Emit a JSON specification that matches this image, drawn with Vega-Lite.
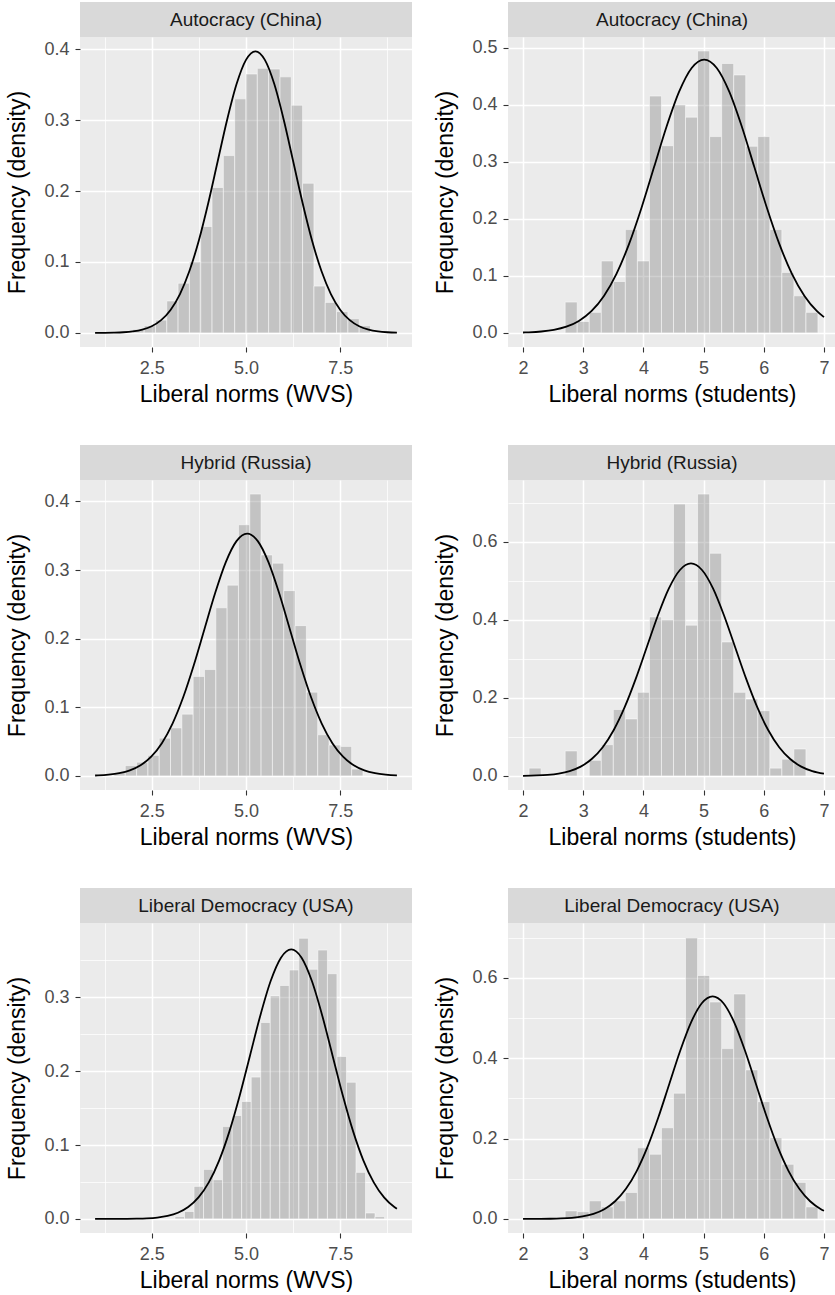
{
  "$schema": "https://vega.github.io/schema/vega-lite/v6.json",
  "background": "white",
  "padding": {"left": 6, "top": 2, "right": 0, "bottom": 0},
  "spacing": 39,
  "config": {
    "font": "Liberation Sans",
    "view": {"fill": "#EBEBEB", "stroke": null},
    "axis": {
      "domain": false,
      "gridColor": "white",
      "tickColor": "#333333",
      "tickSize": 5,
      "tickWidth": 1.1,
      "labelColor": "#4D4D4D",
      "labelFontSize": 18,
      "labelFont": "Liberation Sans",
      "titleFont": "Liberation Sans",
      "titleFontSize": 23,
      "titleFontWeight": "normal",
      "titleColor": "black",
      "labelOverlap": false,
      "labelFlush": false
    },
    "axisX": {"labelPadding": 7, "titlePadding": 6},
    "axisY": {"labelPadding": 6, "titlePadding": 14}
  },
  "datasets": {
    "b1": [
      {"lo": 2.0, "hi": 2.3, "density": 0.005},
      {"lo": 2.3, "hi": 2.6, "density": 0.01},
      {"lo": 2.6, "hi": 2.9, "density": 0.018},
      {"lo": 2.9, "hi": 3.2, "density": 0.045},
      {"lo": 3.2, "hi": 3.5, "density": 0.07},
      {"lo": 3.5, "hi": 3.8, "density": 0.10},
      {"lo": 3.8, "hi": 4.1, "density": 0.15},
      {"lo": 4.1, "hi": 4.4, "density": 0.205},
      {"lo": 4.4, "hi": 4.7, "density": 0.25},
      {"lo": 4.7, "hi": 5.0, "density": 0.33},
      {"lo": 5.0, "hi": 5.3, "density": 0.365},
      {"lo": 5.3, "hi": 5.6, "density": 0.373},
      {"lo": 5.6, "hi": 5.9, "density": 0.372},
      {"lo": 5.9, "hi": 6.2, "density": 0.361},
      {"lo": 6.2, "hi": 6.5, "density": 0.321},
      {"lo": 6.5, "hi": 6.8, "density": 0.211},
      {"lo": 6.8, "hi": 7.1, "density": 0.066},
      {"lo": 7.1, "hi": 7.4, "density": 0.043},
      {"lo": 7.4, "hi": 7.7, "density": 0.03},
      {"lo": 7.7, "hi": 8.0, "density": 0.02},
      {"lo": 8.0, "hi": 8.3, "density": 0.01}
    ],
    "c1": [
      {"score": 1.0, "density": 0.00005},
      {"score": 1.25, "density": 0.00014},
      {"score": 1.5, "density": 0.00038},
      {"score": 1.75, "density": 0.00092},
      {"score": 2.0, "density": 0.00213},
      {"score": 2.25, "density": 0.00461},
      {"score": 2.5, "density": 0.0094},
      {"score": 2.75, "density": 0.01799},
      {"score": 3.0, "density": 0.03238},
      {"score": 3.25, "density": 0.0548},
      {"score": 3.5, "density": 0.08717},
      {"score": 3.75, "density": 0.1303},
      {"score": 4.0, "density": 0.1832},
      {"score": 4.25, "density": 0.242},
      {"score": 4.5, "density": 0.3005},
      {"score": 4.75, "density": 0.3508},
      {"score": 5.0, "density": 0.3849},
      {"score": 5.25, "density": 0.397},
      {"score": 5.5, "density": 0.3849},
      {"score": 5.75, "density": 0.3508},
      {"score": 6.0, "density": 0.3005},
      {"score": 6.25, "density": 0.242},
      {"score": 6.5, "density": 0.1832},
      {"score": 6.75, "density": 0.1303},
      {"score": 7.0, "density": 0.08717},
      {"score": 7.25, "density": 0.0548},
      {"score": 7.5, "density": 0.03238},
      {"score": 7.75, "density": 0.01799},
      {"score": 8.0, "density": 0.0094},
      {"score": 8.25, "density": 0.00461},
      {"score": 8.5, "density": 0.00213},
      {"score": 8.75, "density": 0.00092},
      {"score": 9.0, "density": 0.00038}
    ],
    "b2": [
      {"lo": 2.7, "hi": 2.9, "density": 0.054},
      {"lo": 2.9, "hi": 3.1, "density": 0.02},
      {"lo": 3.1, "hi": 3.3, "density": 0.036},
      {"lo": 3.3, "hi": 3.5, "density": 0.126},
      {"lo": 3.5, "hi": 3.7, "density": 0.09},
      {"lo": 3.7, "hi": 3.9, "density": 0.181},
      {"lo": 3.9, "hi": 4.1, "density": 0.126},
      {"lo": 4.1, "hi": 4.3, "density": 0.415},
      {"lo": 4.3, "hi": 4.5, "density": 0.328},
      {"lo": 4.5, "hi": 4.7, "density": 0.40},
      {"lo": 4.7, "hi": 4.9, "density": 0.378},
      {"lo": 4.9, "hi": 5.1, "density": 0.494},
      {"lo": 5.1, "hi": 5.3, "density": 0.344},
      {"lo": 5.3, "hi": 5.5, "density": 0.472},
      {"lo": 5.5, "hi": 5.7, "density": 0.452},
      {"lo": 5.7, "hi": 5.9, "density": 0.327},
      {"lo": 5.9, "hi": 6.1, "density": 0.344},
      {"lo": 6.1, "hi": 6.3, "density": 0.181},
      {"lo": 6.3, "hi": 6.5, "density": 0.106},
      {"lo": 6.5, "hi": 6.7, "density": 0.065},
      {"lo": 6.7, "hi": 6.9, "density": 0.036}
    ],
    "c2": [
      {"score": 2.0, "density": 0.0007},
      {"score": 2.0945, "density": 0.00105},
      {"score": 2.30275, "density": 0.00244},
      {"score": 2.511, "density": 0.00532},
      {"score": 2.71925, "density": 0.01092},
      {"score": 2.9275, "density": 0.02105},
      {"score": 3.13575, "density": 0.03811},
      {"score": 3.344, "density": 0.06483},
      {"score": 3.55225, "density": 0.10359},
      {"score": 3.7605, "density": 0.15551},
      {"score": 3.96875, "density": 0.2193},
      {"score": 4.177, "density": 0.29053},
      {"score": 4.38525, "density": 0.36157},
      {"score": 4.5935, "density": 0.42272},
      {"score": 4.80175, "density": 0.46426},
      {"score": 5.01, "density": 0.479},
      {"score": 5.21825, "density": 0.46426},
      {"score": 5.4265, "density": 0.42272},
      {"score": 5.63475, "density": 0.36157},
      {"score": 5.843, "density": 0.29053},
      {"score": 6.05125, "density": 0.2193},
      {"score": 6.2595, "density": 0.15551},
      {"score": 6.46775, "density": 0.10359},
      {"score": 6.676, "density": 0.06483},
      {"score": 6.88425, "density": 0.03811},
      {"score": 7.0, "density": 0.0276}
    ],
    "b3": [
      {"lo": 1.5, "hi": 1.8, "density": 0.005},
      {"lo": 1.8, "hi": 2.1, "density": 0.015},
      {"lo": 2.1, "hi": 2.4, "density": 0.02},
      {"lo": 2.4, "hi": 2.7, "density": 0.03},
      {"lo": 2.7, "hi": 3.0, "density": 0.055},
      {"lo": 3.0, "hi": 3.3, "density": 0.07},
      {"lo": 3.3, "hi": 3.6, "density": 0.09},
      {"lo": 3.6, "hi": 3.9, "density": 0.145},
      {"lo": 3.9, "hi": 4.2, "density": 0.155},
      {"lo": 4.2, "hi": 4.5, "density": 0.245},
      {"lo": 4.5, "hi": 4.8, "density": 0.278},
      {"lo": 4.8, "hi": 5.1, "density": 0.366},
      {"lo": 5.1, "hi": 5.4, "density": 0.4107},
      {"lo": 5.4, "hi": 5.7, "density": 0.322},
      {"lo": 5.7, "hi": 6.0, "density": 0.31},
      {"lo": 6.0, "hi": 6.3, "density": 0.27},
      {"lo": 6.3, "hi": 6.6, "density": 0.219},
      {"lo": 6.6, "hi": 6.9, "density": 0.122},
      {"lo": 6.9, "hi": 7.2, "density": 0.06},
      {"lo": 7.2, "hi": 7.5, "density": 0.045},
      {"lo": 7.5, "hi": 7.8, "density": 0.043},
      {"lo": 7.8, "hi": 8.1, "density": 0.01}
    ],
    "c3": [
      {"score": 1.0, "density": 0.00061},
      {"score": 1.075, "density": 0.00077},
      {"score": 1.3575, "density": 0.0018},
      {"score": 1.64, "density": 0.00392},
      {"score": 1.9225, "density": 0.00805},
      {"score": 2.205, "density": 0.01551},
      {"score": 2.4875, "density": 0.02808},
      {"score": 2.77, "density": 0.04777},
      {"score": 3.0525, "density": 0.07634},
      {"score": 3.335, "density": 0.1146},
      {"score": 3.6175, "density": 0.16162},
      {"score": 3.9, "density": 0.21411},
      {"score": 4.1825, "density": 0.26646},
      {"score": 4.465, "density": 0.31152},
      {"score": 4.7475, "density": 0.34214},
      {"score": 5.03, "density": 0.353},
      {"score": 5.3125, "density": 0.34214},
      {"score": 5.595, "density": 0.31152},
      {"score": 5.8775, "density": 0.26646},
      {"score": 6.16, "density": 0.21411},
      {"score": 6.4425, "density": 0.16162},
      {"score": 6.725, "density": 0.1146},
      {"score": 7.0075, "density": 0.07634},
      {"score": 7.29, "density": 0.04777},
      {"score": 7.5725, "density": 0.02808},
      {"score": 7.855, "density": 0.01551},
      {"score": 8.1375, "density": 0.00805},
      {"score": 8.42, "density": 0.00392},
      {"score": 8.7025, "density": 0.0018},
      {"score": 8.985, "density": 0.00077},
      {"score": 9.0, "density": 0.00074}
    ],
    "b4": [
      {"lo": 2.1, "hi": 2.3, "density": 0.02},
      {"lo": 2.7, "hi": 2.9, "density": 0.064},
      {"lo": 3.1, "hi": 3.3, "density": 0.04},
      {"lo": 3.3, "hi": 3.5, "density": 0.08},
      {"lo": 3.5, "hi": 3.7, "density": 0.17},
      {"lo": 3.7, "hi": 3.9, "density": 0.146},
      {"lo": 3.9, "hi": 4.1, "density": 0.214},
      {"lo": 4.1, "hi": 4.3, "density": 0.407},
      {"lo": 4.3, "hi": 4.5, "density": 0.40},
      {"lo": 4.5, "hi": 4.7, "density": 0.696},
      {"lo": 4.7, "hi": 4.9, "density": 0.386},
      {"lo": 4.9, "hi": 5.1, "density": 0.7215},
      {"lo": 5.1, "hi": 5.3, "density": 0.57},
      {"lo": 5.3, "hi": 5.5, "density": 0.343},
      {"lo": 5.5, "hi": 5.7, "density": 0.214},
      {"lo": 5.7, "hi": 5.9, "density": 0.197},
      {"lo": 5.9, "hi": 6.1, "density": 0.167},
      {"lo": 6.1, "hi": 6.3, "density": 0.02},
      {"lo": 6.3, "hi": 6.5, "density": 0.043},
      {"lo": 6.5, "hi": 6.7, "density": 0.069}
    ],
    "c4": [
      {"score": 2.0, "density": 0.00039},
      {"score": 2.2245, "density": 0.00119},
      {"score": 2.40775, "density": 0.00277},
      {"score": 2.591, "density": 0.00604},
      {"score": 2.77425, "density": 0.0124},
      {"score": 2.9575, "density": 0.0239},
      {"score": 3.14075, "density": 0.04328},
      {"score": 3.324, "density": 0.07362},
      {"score": 3.50725, "density": 0.11765},
      {"score": 3.6905, "density": 0.17661},
      {"score": 3.87375, "density": 0.24906},
      {"score": 4.057, "density": 0.32995},
      {"score": 4.24025, "density": 0.41063},
      {"score": 4.4235, "density": 0.48008},
      {"score": 4.60675, "density": 0.52726},
      {"score": 4.79, "density": 0.544},
      {"score": 4.97325, "density": 0.52726},
      {"score": 5.1565, "density": 0.48008},
      {"score": 5.33975, "density": 0.41063},
      {"score": 5.523, "density": 0.32995},
      {"score": 5.70625, "density": 0.24906},
      {"score": 5.8895, "density": 0.17661},
      {"score": 6.07275, "density": 0.11765},
      {"score": 6.256, "density": 0.07362},
      {"score": 6.43925, "density": 0.04328},
      {"score": 6.6225, "density": 0.0239},
      {"score": 6.80575, "density": 0.0124},
      {"score": 7.0, "density": 0.00578}
    ],
    "b5": [
      {"lo": 3.118, "hi": 3.37, "density": 0.003},
      {"lo": 3.37, "hi": 3.623, "density": 0.01},
      {"lo": 3.623, "hi": 3.875, "density": 0.044},
      {"lo": 3.875, "hi": 4.128, "density": 0.067},
      {"lo": 4.128, "hi": 4.38, "density": 0.053},
      {"lo": 4.38, "hi": 4.633, "density": 0.125},
      {"lo": 4.633, "hi": 4.885, "density": 0.14},
      {"lo": 4.885, "hi": 5.138, "density": 0.159},
      {"lo": 5.138, "hi": 5.39, "density": 0.192},
      {"lo": 5.39, "hi": 5.643, "density": 0.266},
      {"lo": 5.643, "hi": 5.895, "density": 0.302},
      {"lo": 5.895, "hi": 6.148, "density": 0.316},
      {"lo": 6.148, "hi": 6.4, "density": 0.337},
      {"lo": 6.4, "hi": 6.653, "density": 0.38},
      {"lo": 6.653, "hi": 6.905, "density": 0.338},
      {"lo": 6.905, "hi": 7.158, "density": 0.364},
      {"lo": 7.158, "hi": 7.41, "density": 0.332},
      {"lo": 7.41, "hi": 7.663, "density": 0.22},
      {"lo": 7.663, "hi": 7.915, "density": 0.185},
      {"lo": 7.915, "hi": 8.168, "density": 0.063},
      {"lo": 8.168, "hi": 8.42, "density": 0.008},
      {"lo": 8.42, "hi": 8.673, "density": 0.003}
    ],
    "c5": [
      {"score": 1.0, "density": 0.000005},
      {"score": 1.2815, "density": 0.000015},
      {"score": 1.55475, "density": 0.00004},
      {"score": 1.828, "density": 0.00012},
      {"score": 2.10125, "density": 0.00032},
      {"score": 2.3745, "density": 0.0008},
      {"score": 2.64775, "density": 0.00186},
      {"score": 2.921, "density": 0.00405},
      {"score": 3.19425, "density": 0.00832},
      {"score": 3.4675, "density": 0.01604},
      {"score": 3.74075, "density": 0.02904},
      {"score": 4.014, "density": 0.0494},
      {"score": 4.28725, "density": 0.07894},
      {"score": 4.5605, "density": 0.1185},
      {"score": 4.83375, "density": 0.16711},
      {"score": 5.107, "density": 0.22138},
      {"score": 5.38025, "density": 0.27552},
      {"score": 5.6535, "density": 0.32211},
      {"score": 5.92675, "density": 0.35377},
      {"score": 6.2, "density": 0.365},
      {"score": 6.47325, "density": 0.35377},
      {"score": 6.7465, "density": 0.32211},
      {"score": 7.01975, "density": 0.27552},
      {"score": 7.293, "density": 0.22138},
      {"score": 7.56625, "density": 0.16711},
      {"score": 7.8395, "density": 0.1185},
      {"score": 8.11275, "density": 0.07894},
      {"score": 8.386, "density": 0.0494},
      {"score": 8.65925, "density": 0.02904},
      {"score": 8.9325, "density": 0.01604},
      {"score": 9.0, "density": 0.01372}
    ],
    "b6": [
      {"lo": 2.7, "hi": 2.9, "density": 0.02},
      {"lo": 2.9, "hi": 3.1, "density": 0.018},
      {"lo": 3.1, "hi": 3.3, "density": 0.045},
      {"lo": 3.3, "hi": 3.5, "density": 0.03},
      {"lo": 3.5, "hi": 3.7, "density": 0.045},
      {"lo": 3.7, "hi": 3.9, "density": 0.066},
      {"lo": 3.9, "hi": 4.1, "density": 0.177},
      {"lo": 4.1, "hi": 4.3, "density": 0.161},
      {"lo": 4.3, "hi": 4.5, "density": 0.227},
      {"lo": 4.5, "hi": 4.7, "density": 0.313},
      {"lo": 4.7, "hi": 4.9, "density": 0.70},
      {"lo": 4.9, "hi": 5.1, "density": 0.606},
      {"lo": 5.1, "hi": 5.3, "density": 0.54},
      {"lo": 5.3, "hi": 5.5, "density": 0.424},
      {"lo": 5.5, "hi": 5.7, "density": 0.56},
      {"lo": 5.7, "hi": 5.9, "density": 0.371},
      {"lo": 5.9, "hi": 6.1, "density": 0.292},
      {"lo": 6.1, "hi": 6.3, "density": 0.202},
      {"lo": 6.3, "hi": 6.5, "density": 0.136},
      {"lo": 6.5, "hi": 6.7, "density": 0.091},
      {"lo": 6.7, "hi": 6.9, "density": 0.03}
    ],
    "c6": [
      {"score": 2.0, "density": 0.00004},
      {"score": 2.09, "density": 0.000066},
      {"score": 2.27, "density": 0.00019},
      {"score": 2.45, "density": 0.00049},
      {"score": 2.63, "density": 0.00121},
      {"score": 2.81, "density": 0.00282},
      {"score": 2.99, "density": 0.00615},
      {"score": 3.17, "density": 0.01263},
      {"score": 3.35, "density": 0.02434},
      {"score": 3.53, "density": 0.04408},
      {"score": 3.71, "density": 0.07498},
      {"score": 3.89, "density": 0.11981},
      {"score": 4.07, "density": 0.17986},
      {"score": 4.25, "density": 0.25364},
      {"score": 4.43, "density": 0.33602},
      {"score": 4.61, "density": 0.41818},
      {"score": 4.79, "density": 0.4889},
      {"score": 4.97, "density": 0.53695},
      {"score": 5.15, "density": 0.554},
      {"score": 5.33, "density": 0.53695},
      {"score": 5.51, "density": 0.4889},
      {"score": 5.69, "density": 0.41818},
      {"score": 5.87, "density": 0.33602},
      {"score": 6.05, "density": 0.25364},
      {"score": 6.23, "density": 0.17986},
      {"score": 6.41, "density": 0.11981},
      {"score": 6.59, "density": 0.07498},
      {"score": 6.77, "density": 0.04408},
      {"score": 6.95, "density": 0.02434},
      {"score": 7.0, "density": 0.02042}
    ]
  },
  "vconcat": [
    {
      "hconcat": [
        {
          "vconcat": [
            {"width": 332, "height": 35, "view": {"fill": "#D9D9D9", "stroke": null}, "data": {"values": [{"label": "Autocracy (China)"}]}, "mark": {"type": "text", "fontSize": 19, "color": "#1A1A1A", "font": "Liberation Sans"}, "encoding": {"text": {"field": "label", "type": "nominal"}}},
            {"width": 332, "height": 310, "layer": [
              {"data": {"name": "b1"}, "mark": {"type": "rect", "fill": "#7F7F7F", "fillOpacity": 0.37, "stroke": "white", "strokeWidth": 0.5},
               "encoding": {
                 "x": {"field": "lo", "type": "quantitative", "title": "Liberal norms (WVS)", "scale": {"domain": [0.6, 9.4], "nice": false, "zero": false},
                   "axis": {"values": [1.25, 2.5, 3.75, 5, 6.25, 7.5, 8.75], "labelExpr": "abs(datum.value/2.5-round(datum.value/2.5))<0.001 ? format(datum.value,'.1f') : ''", "gridWidth": {"condition": {"test": "abs(datum.value/2.5-round(datum.value/2.5))<0.001", "value": 1.5}, "value": 0.75}, "tickOpacity": {"condition": {"test": "abs(datum.value/2.5-round(datum.value/2.5))<0.001", "value": 1}, "value": 0}}},
                 "x2": {"field": "hi"},
                 "y": {"field": "density", "type": "quantitative", "title": "Frequency (density)", "scale": {"domain": [-0.0199, 0.4172], "nice": false, "zero": false},
                   "axis": {"values": [0, 0.05, 0.1, 0.15, 0.2, 0.25, 0.3, 0.35, 0.4], "labelExpr": "abs(datum.value*10-round(datum.value*10))<0.001 ? format(datum.value,'.1f') : ''", "gridWidth": {"condition": {"test": "abs(datum.value*10-round(datum.value*10))<0.001", "value": 1.5}, "value": 0.75}, "tickOpacity": {"condition": {"test": "abs(datum.value*10-round(datum.value*10))<0.001", "value": 1}, "value": 0}}},
                 "y2": {"datum": 0}
               }},
              {"data": {"name": "c1"}, "mark": {"type": "line", "color": "black", "strokeWidth": 1.8, "interpolate": "monotone"},
               "encoding": {"x": {"field": "score", "type": "quantitative", "title": "Liberal norms (WVS)"}, "y": {"field": "density", "type": "quantitative", "title": "Frequency (density)"}}}
            ]}
          ],
          "spacing": 0
        },
        {
          "vconcat": [
            {"width": 328, "height": 35, "view": {"fill": "#D9D9D9", "stroke": null}, "data": {"values": [{"label": "Autocracy (China)"}]}, "mark": {"type": "text", "fontSize": 19, "color": "#1A1A1A", "font": "Liberation Sans"}, "encoding": {"text": {"field": "label", "type": "nominal"}}},
            {"width": 328, "height": 310, "layer": [
              {"data": {"name": "b2"}, "mark": {"type": "rect", "fill": "#7F7F7F", "fillOpacity": 0.37, "stroke": "white", "strokeWidth": 0.5},
               "encoding": {
                 "x": {"field": "lo", "type": "quantitative", "title": "Liberal norms (students)", "scale": {"domain": [1.75, 7.2], "nice": false, "zero": false},
                   "axis": {"values": [2, 2.5, 3, 3.5, 4, 4.5, 5, 5.5, 6, 6.5, 7], "labelExpr": "abs(datum.value-round(datum.value))<0.001 ? format(datum.value,'d') : ''", "gridWidth": {"condition": {"test": "abs(datum.value-round(datum.value))<0.001", "value": 1.5}, "value": 0.75}, "tickOpacity": {"condition": {"test": "abs(datum.value-round(datum.value))<0.001", "value": 1}, "value": 0}}},
                 "x2": {"field": "hi"},
                 "y": {"field": "density", "type": "quantitative", "title": "Frequency (density)", "scale": {"domain": [-0.0247, 0.5185], "nice": false, "zero": false},
                   "axis": {"values": [0, 0.05, 0.1, 0.15, 0.2, 0.25, 0.3, 0.35, 0.4, 0.45, 0.5], "labelExpr": "abs(datum.value*10-round(datum.value*10))<0.001 ? format(datum.value,'.1f') : ''", "gridWidth": {"condition": {"test": "abs(datum.value*10-round(datum.value*10))<0.001", "value": 1.5}, "value": 0.75}, "tickOpacity": {"condition": {"test": "abs(datum.value*10-round(datum.value*10))<0.001", "value": 1}, "value": 0}}},
                 "y2": {"datum": 0}
               }},
              {"data": {"name": "c2"}, "mark": {"type": "line", "color": "black", "strokeWidth": 1.8, "interpolate": "monotone"},
               "encoding": {"x": {"field": "score", "type": "quantitative", "title": "Liberal norms (students)"}, "y": {"field": "density", "type": "quantitative", "title": "Frequency (density)"}}}
            ]}
          ],
          "spacing": 0
        }
      ],
      "spacing": 22
    },
    {
      "hconcat": [
        {
          "vconcat": [
            {"width": 332, "height": 35, "view": {"fill": "#D9D9D9", "stroke": null}, "data": {"values": [{"label": "Hybrid (Russia)"}]}, "mark": {"type": "text", "fontSize": 19, "color": "#1A1A1A", "font": "Liberation Sans"}, "encoding": {"text": {"field": "label", "type": "nominal"}}},
            {"width": 332, "height": 310, "layer": [
              {"data": {"name": "b3"}, "mark": {"type": "rect", "fill": "#7F7F7F", "fillOpacity": 0.37, "stroke": "white", "strokeWidth": 0.5},
               "encoding": {
                 "x": {"field": "lo", "type": "quantitative", "title": "Liberal norms (WVS)", "scale": {"domain": [0.6, 9.4], "nice": false, "zero": false},
                   "axis": {"values": [1.25, 2.5, 3.75, 5, 6.25, 7.5, 8.75], "labelExpr": "abs(datum.value/2.5-round(datum.value/2.5))<0.001 ? format(datum.value,'.1f') : ''", "gridWidth": {"condition": {"test": "abs(datum.value/2.5-round(datum.value/2.5))<0.001", "value": 1.5}, "value": 0.75}, "tickOpacity": {"condition": {"test": "abs(datum.value/2.5-round(datum.value/2.5))<0.001", "value": 1}, "value": 0}}},
                 "x2": {"field": "hi"},
                 "y": {"field": "density", "type": "quantitative", "title": "Frequency (density)", "scale": {"domain": [-0.0205, 0.4312], "nice": false, "zero": false},
                   "axis": {"values": [0, 0.05, 0.1, 0.15, 0.2, 0.25, 0.3, 0.35, 0.4], "labelExpr": "abs(datum.value*10-round(datum.value*10))<0.001 ? format(datum.value,'.1f') : ''", "gridWidth": {"condition": {"test": "abs(datum.value*10-round(datum.value*10))<0.001", "value": 1.5}, "value": 0.75}, "tickOpacity": {"condition": {"test": "abs(datum.value*10-round(datum.value*10))<0.001", "value": 1}, "value": 0}}},
                 "y2": {"datum": 0}
               }},
              {"data": {"name": "c3"}, "mark": {"type": "line", "color": "black", "strokeWidth": 1.8, "interpolate": "monotone"},
               "encoding": {"x": {"field": "score", "type": "quantitative", "title": "Liberal norms (WVS)"}, "y": {"field": "density", "type": "quantitative", "title": "Frequency (density)"}}}
            ]}
          ],
          "spacing": 0
        },
        {
          "vconcat": [
            {"width": 328, "height": 35, "view": {"fill": "#D9D9D9", "stroke": null}, "data": {"values": [{"label": "Hybrid (Russia)"}]}, "mark": {"type": "text", "fontSize": 19, "color": "#1A1A1A", "font": "Liberation Sans"}, "encoding": {"text": {"field": "label", "type": "nominal"}}},
            {"width": 328, "height": 310, "layer": [
              {"data": {"name": "b4"}, "mark": {"type": "rect", "fill": "#7F7F7F", "fillOpacity": 0.37, "stroke": "white", "strokeWidth": 0.5},
               "encoding": {
                 "x": {"field": "lo", "type": "quantitative", "title": "Liberal norms (students)", "scale": {"domain": [1.75, 7.2], "nice": false, "zero": false},
                   "axis": {"values": [2, 2.5, 3, 3.5, 4, 4.5, 5, 5.5, 6, 6.5, 7], "labelExpr": "abs(datum.value-round(datum.value))<0.001 ? format(datum.value,'d') : ''", "gridWidth": {"condition": {"test": "abs(datum.value-round(datum.value))<0.001", "value": 1.5}, "value": 0.75}, "tickOpacity": {"condition": {"test": "abs(datum.value-round(datum.value))<0.001", "value": 1}, "value": 0}}},
                 "x2": {"field": "hi"},
                 "y": {"field": "density", "type": "quantitative", "title": "Frequency (density)", "scale": {"domain": [-0.036, 0.7576], "nice": false, "zero": false},
                   "axis": {"values": [0, 0.1, 0.2, 0.3, 0.4, 0.5, 0.6, 0.7], "labelExpr": "abs(datum.value*5-round(datum.value*5))<0.001 ? format(datum.value,'.1f') : ''", "gridWidth": {"condition": {"test": "abs(datum.value*5-round(datum.value*5))<0.001", "value": 1.5}, "value": 0.75}, "tickOpacity": {"condition": {"test": "abs(datum.value*5-round(datum.value*5))<0.001", "value": 1}, "value": 0}}},
                 "y2": {"datum": 0}
               }},
              {"data": {"name": "c4"}, "mark": {"type": "line", "color": "black", "strokeWidth": 1.8, "interpolate": "monotone"},
               "encoding": {"x": {"field": "score", "type": "quantitative", "title": "Liberal norms (students)"}, "y": {"field": "density", "type": "quantitative", "title": "Frequency (density)"}}}
            ]}
          ],
          "spacing": 0
        }
      ],
      "spacing": 22
    },
    {
      "hconcat": [
        {
          "vconcat": [
            {"width": 332, "height": 35, "view": {"fill": "#D9D9D9", "stroke": null}, "data": {"values": [{"label": "Liberal Democracy (USA)"}]}, "mark": {"type": "text", "fontSize": 19, "color": "#1A1A1A", "font": "Liberation Sans"}, "encoding": {"text": {"field": "label", "type": "nominal"}}},
            {"width": 332, "height": 310, "layer": [
              {"data": {"name": "b5"}, "mark": {"type": "rect", "fill": "#7F7F7F", "fillOpacity": 0.37, "stroke": "white", "strokeWidth": 0.5},
               "encoding": {
                 "x": {"field": "lo", "type": "quantitative", "title": "Liberal norms (WVS)", "scale": {"domain": [0.6, 9.4], "nice": false, "zero": false},
                   "axis": {"values": [1.25, 2.5, 3.75, 5, 6.25, 7.5, 8.75], "labelExpr": "abs(datum.value/2.5-round(datum.value/2.5))<0.001 ? format(datum.value,'.1f') : ''", "gridWidth": {"condition": {"test": "abs(datum.value/2.5-round(datum.value/2.5))<0.001", "value": 1.5}, "value": 0.75}, "tickOpacity": {"condition": {"test": "abs(datum.value/2.5-round(datum.value/2.5))<0.001", "value": 1}, "value": 0}}},
                 "x2": {"field": "hi"},
                 "y": {"field": "density", "type": "quantitative", "title": "Frequency (density)", "scale": {"domain": [-0.0191, 0.4007], "nice": false, "zero": false},
                   "axis": {"values": [0, 0.05, 0.1, 0.15, 0.2, 0.25, 0.3, 0.35], "labelExpr": "abs(datum.value*10-round(datum.value*10))<0.001 ? format(datum.value,'.1f') : ''", "gridWidth": {"condition": {"test": "abs(datum.value*10-round(datum.value*10))<0.001", "value": 1.5}, "value": 0.75}, "tickOpacity": {"condition": {"test": "abs(datum.value*10-round(datum.value*10))<0.001", "value": 1}, "value": 0}}},
                 "y2": {"datum": 0}
               }},
              {"data": {"name": "c5"}, "mark": {"type": "line", "color": "black", "strokeWidth": 1.8, "interpolate": "monotone"},
               "encoding": {"x": {"field": "score", "type": "quantitative", "title": "Liberal norms (WVS)"}, "y": {"field": "density", "type": "quantitative", "title": "Frequency (density)"}}}
            ]}
          ],
          "spacing": 0
        },
        {
          "vconcat": [
            {"width": 328, "height": 35, "view": {"fill": "#D9D9D9", "stroke": null}, "data": {"values": [{"label": "Liberal Democracy (USA)"}]}, "mark": {"type": "text", "fontSize": 19, "color": "#1A1A1A", "font": "Liberation Sans"}, "encoding": {"text": {"field": "label", "type": "nominal"}}},
            {"width": 328, "height": 310, "layer": [
              {"data": {"name": "b6"}, "mark": {"type": "rect", "fill": "#7F7F7F", "fillOpacity": 0.37, "stroke": "white", "strokeWidth": 0.5},
               "encoding": {
                 "x": {"field": "lo", "type": "quantitative", "title": "Liberal norms (students)", "scale": {"domain": [1.75, 7.2], "nice": false, "zero": false},
                   "axis": {"values": [2, 2.5, 3, 3.5, 4, 4.5, 5, 5.5, 6, 6.5, 7], "labelExpr": "abs(datum.value-round(datum.value))<0.001 ? format(datum.value,'d') : ''", "gridWidth": {"condition": {"test": "abs(datum.value-round(datum.value))<0.001", "value": 1.5}, "value": 0.75}, "tickOpacity": {"condition": {"test": "abs(datum.value-round(datum.value))<0.001", "value": 1}, "value": 0}}},
                 "x2": {"field": "hi"},
                 "y": {"field": "density", "type": "quantitative", "title": "Frequency (density)", "scale": {"domain": [-0.035, 0.7367], "nice": false, "zero": false},
                   "axis": {"values": [0, 0.1, 0.2, 0.3, 0.4, 0.5, 0.6, 0.7], "labelExpr": "abs(datum.value*5-round(datum.value*5))<0.001 ? format(datum.value,'.1f') : ''", "gridWidth": {"condition": {"test": "abs(datum.value*5-round(datum.value*5))<0.001", "value": 1.5}, "value": 0.75}, "tickOpacity": {"condition": {"test": "abs(datum.value*5-round(datum.value*5))<0.001", "value": 1}, "value": 0}}},
                 "y2": {"datum": 0}
               }},
              {"data": {"name": "c6"}, "mark": {"type": "line", "color": "black", "strokeWidth": 1.8, "interpolate": "monotone"},
               "encoding": {"x": {"field": "score", "type": "quantitative", "title": "Liberal norms (students)"}, "y": {"field": "density", "type": "quantitative", "title": "Frequency (density)"}}}
            ]}
          ],
          "spacing": 0
        }
      ],
      "spacing": 22
    }
  ]
}
